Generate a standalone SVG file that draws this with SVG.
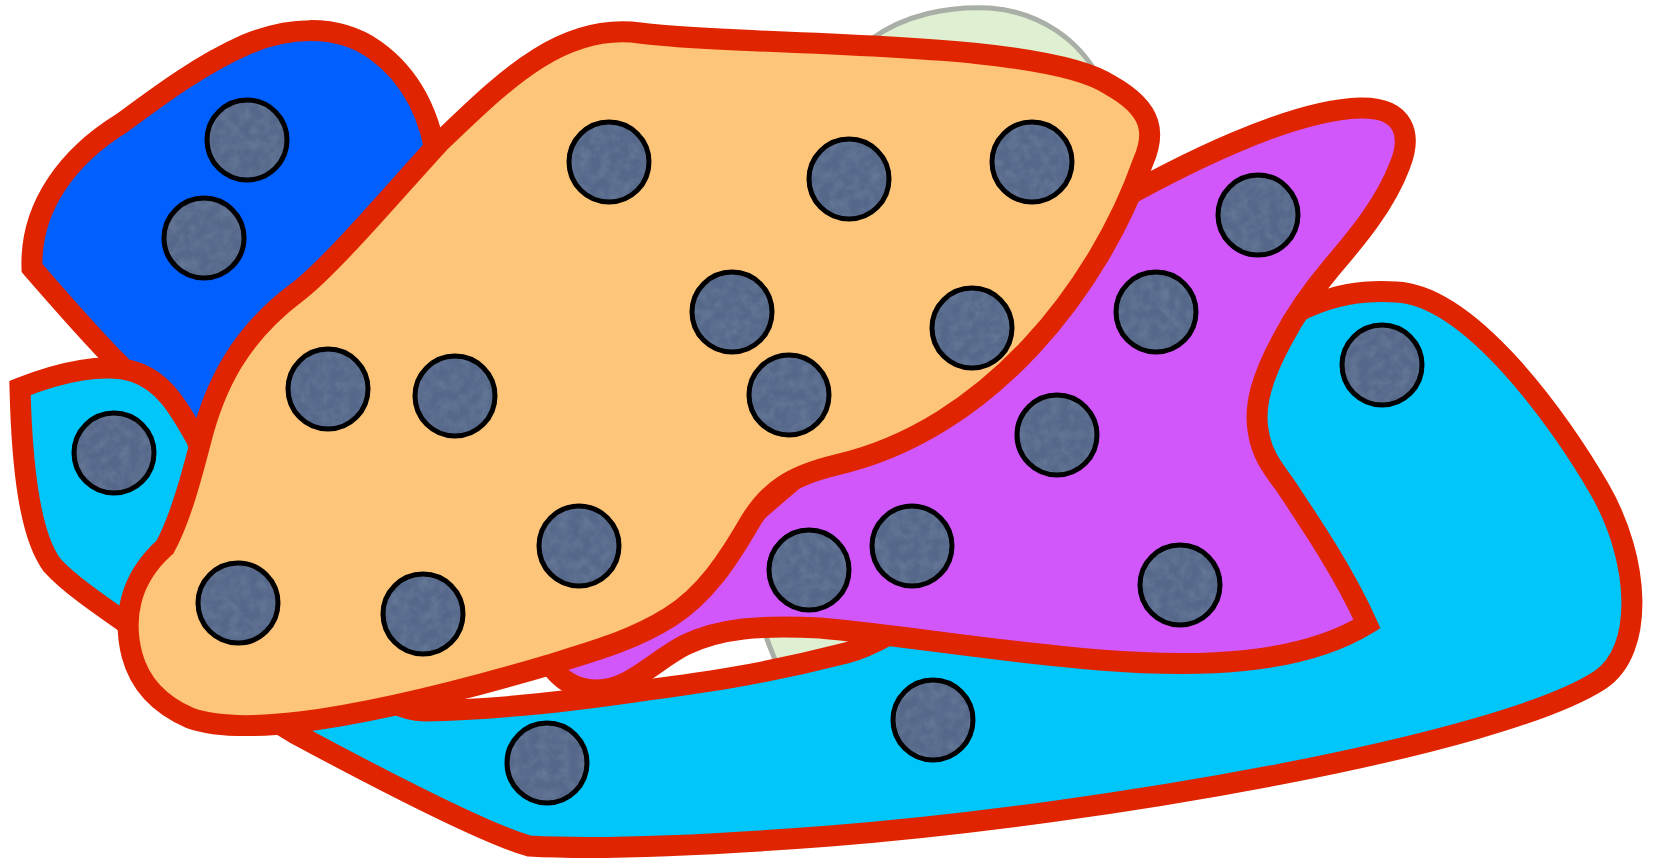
<svg xmlns="http://www.w3.org/2000/svg" width="1660" height="862" viewBox="0 0 1660 862">
<defs>
<filter id="noise" x="0" y="0" width="1660" height="862" filterUnits="userSpaceOnUse">
<feTurbulence type="fractalNoise" baseFrequency="0.1" numOctaves="3" seed="4"/>
<feColorMatrix type="matrix" values="0 0 0 0 0.42  0 0 0 0 0.5  0 0 0 0 0.62  0.35 0 0 0 -0.12"/>
</filter>
<pattern id="slate" patternUnits="userSpaceOnUse" x="0" y="0" width="1660" height="862">
<rect width="1660" height="862" fill="#55688a"/>
<rect width="1660" height="862" fill="#fff" filter="url(#noise)"/>
</pattern>
</defs>
<style>
.blob{stroke:#e02400;stroke-width:21;stroke-linejoin:miter;stroke-miterlimit:6}
.dot{fill:url(#slate);stroke:#000;stroke-width:5}
</style>
<rect width="1660" height="862" fill="#fff"/>
<g id="green-blob">
<path d="M790,695 C770,650 750,600 745,560 C735,420 800,180 870,40 C905,14 950,6 990,8 C1040,12 1080,40 1100,80 C1120,150 1110,400 1100,500 C1000,620 900,700 790,695 Z" fill="#dff0d2" stroke="#a9aea6" stroke-width="5"/>
</g>
<g id="blue-blob">
<path class="blob" fill="#0060ff" d="M438,170 C432,115 410,75 375,50 C335,22 285,28 245,45 C200,65 160,95 122,123 C70,155 30,205 32,268 C60,300 90,335 120,365 L190,450 L300,330 Z"/>
</g>
<g id="cyan-left">
<path class="blob" fill="#00c6fa" d="M20,388 C60,372 105,362 135,372 C165,382 180,410 197,440 L220,520 L165,600 L150,640 C100,605 70,585 52,565 C30,535 22,470 20,388 Z"/>
</g>
<g id="cyan-main">
<path class="blob" fill="#00c6fa" d="M360,680 C385,700 400,710 425,711 C480,710 560,703 647,690 C700,683 760,675 846,653 C900,640 1000,560 1100,480 C1180,420 1250,340 1305,308 C1335,295 1360,290 1396,292 C1470,295 1560,420 1600,490 C1640,560 1645,650 1600,680 C1500,745 1100,815 830,836 C700,846 600,850 529,846 C490,835 400,790 294,733 L240,700 Z"/>
</g>
<g id="purple-blob">
<path class="blob" fill="#d257fb" d="M1100,211 C1180,165 1290,110 1360,108 C1405,107 1412,135 1400,165 C1385,205 1355,240 1332,267 C1310,293 1295,315 1282,340 C1262,377 1254,405 1258,430 C1261,452 1270,465 1285,485 C1315,530 1345,575 1367,624 C1300,665 1200,668 1100,660 C1000,652 900,635 820,628 C760,625 720,628 685,645 C655,660 630,690 597,690 C575,690 560,680 548,662 L700,560 L1050,260 Z"/>
</g>
<g id="orange-blob">
<path class="blob" fill="#fdc579" d="M439,143 C500,85 560,22 640,33 C740,47 1040,38 1110,85 C1155,110 1155,135 1143,162 C1100,285 990,430 836,465 C790,476 768,492 750,522 C728,560 705,595 670,617 C630,642 590,652 542,667 C470,688 380,712 300,722 C250,728 215,727 190,718 C160,705 140,685 132,655 C123,620 128,580 165,547 C180,520 192,475 201,440 C215,385 240,335 296,293 C330,268 400,185 439,143 Z"/>
</g>
<g id="dots">
<circle class="dot" cx="247" cy="140" r="40"/>
<circle class="dot" cx="204" cy="238" r="40"/>
<circle class="dot" cx="114" cy="453" r="40"/>
<circle class="dot" cx="328" cy="389" r="40"/>
<circle class="dot" cx="455" cy="396" r="40"/>
<circle class="dot" cx="238" cy="603" r="40"/>
<circle class="dot" cx="423" cy="614" r="40"/>
<circle class="dot" cx="579" cy="546" r="40"/>
<circle class="dot" cx="609" cy="162" r="40"/>
<circle class="dot" cx="849" cy="179" r="40"/>
<circle class="dot" cx="1032" cy="162" r="40"/>
<circle class="dot" cx="732" cy="312" r="40"/>
<circle class="dot" cx="789" cy="395" r="40"/>
<circle class="dot" cx="972" cy="328" r="40"/>
<circle class="dot" cx="1258" cy="215" r="40"/>
<circle class="dot" cx="1156" cy="312" r="40"/>
<circle class="dot" cx="1382" cy="365" r="40"/>
<circle class="dot" cx="1057" cy="435" r="40"/>
<circle class="dot" cx="809" cy="570" r="40"/>
<circle class="dot" cx="912" cy="546" r="40"/>
<circle class="dot" cx="1180" cy="585" r="40"/>
<circle class="dot" cx="547" cy="763" r="40"/>
<circle class="dot" cx="933" cy="720" r="40"/>
</g>
</svg>
